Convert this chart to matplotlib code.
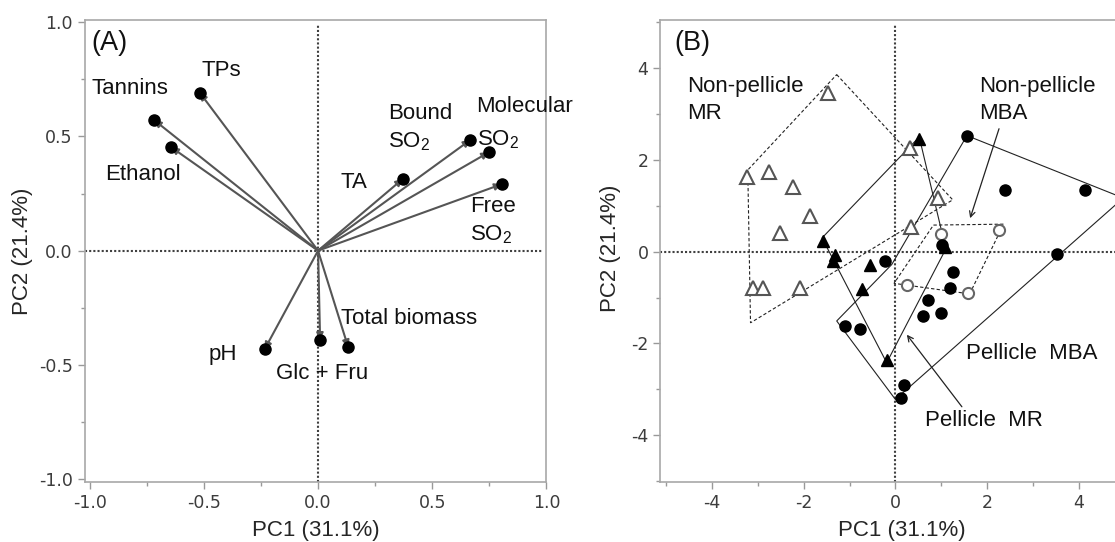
import numpy as np
import matplotlib
matplotlib.use("Agg")
import matplotlib.pyplot as plt
from matplotlib.patches import Polygon
from matplotlib.ticker import MultipleLocator, FormatStrFormatter

# ---- panel A : loadings ----
load_names = ["TPs", "Tannins", "Ethanol", "TA", "Bound SO2", "Molecular SO2",
              "Free SO2", "pH", "Glc + Fru", "Total biomass"]
load_pc1 = [-0.518, -0.718, -0.643, 0.371, 0.667, 0.748, 0.804, -0.234, 0.009, 0.132]
load_pc2 = [0.692, 0.572, 0.453, 0.314, 0.485, 0.431, 0.291, -0.432, -0.391, -0.423]

# label text lines and where they sit (left edge, centre y)
load_labels = [
    ("TPs", -0.51, 0.788),
    ("Tannins", -0.99, 0.711),
    ("Ethanol", -0.931, 0.332),
    ("TA", 0.097, 0.298),
    ("Bound", 0.308, 0.602), ("SO$_2$", 0.308, 0.477),
    ("Molecular", 0.693, 0.631), ("SO$_2$", 0.698, 0.485),
    ("Free", 0.664, 0.193), ("SO$_2$", 0.664, 0.069),
    ("pH", -0.479, -0.454),
    ("Glc + Fru", -0.186, -0.540),
    ("Total biomass", 0.101, -0.296),
]

# ---- panel B : scores ----
np_mr_x = [-1.48, -3.23, -2.76, -2.24, -1.86, -2.51, 0.31, 0.94, 0.34, -3.11, -2.88, -2.08]
np_mr_y = [3.45, 1.63, 1.74, 1.40, 0.78, 0.40, 2.27, 1.16, 0.54, -0.80, -0.80, -0.80]
p_mr_x = [0.52, -1.57, -1.32, -1.37, -0.55, -0.72, 1.08, -0.19]
p_mr_y = [2.45, 0.23, -0.07, -0.20, -0.29, -0.82, 0.10, -2.36]
np_mba_x = [1.00, 2.25, 0.25, 1.59]
np_mba_y = [0.38, 0.47, -0.73, -0.91]
p_mba_x = [1.56, 2.38, 4.14, 1.01, 3.52, -0.22, 1.26, 1.19, 0.72, 0.61, 1.00, -1.10, -0.77, 0.19, 0.12]
p_mba_y = [2.53, 1.34, 1.34, 0.15, -0.06, -0.20, -0.44, -0.80, -1.05, -1.40, -1.34, -1.62, -1.69, -2.90, -3.18]

# group outlines drawn around each group
hull_np_mr = [(-1.28, 3.86), (1.25, 1.13), (-3.16, -1.55), (-3.22, 1.78)]
hull_np_mba = [(0.83, 0.58), (2.36, 0.60), (1.62, -0.92), (-0.03, -0.69)]
hull_p_mr = [(0.52, 2.50), (1.10, 0.06), (-0.19, -2.42), (-1.60, 0.30)]
hull_p_mba = [(1.56, 2.53), (4.97, 1.17), (0.0, -3.22), (-1.28, -1.51), (-0.08, -0.28)]

plt.rcParams["font.family"] = ["Liberation Sans", "DejaVu Sans"]
plt.rcParams["mathtext.fontset"] = "custom"
plt.rcParams["mathtext.rm"] = "Liberation Sans"
plt.rcParams["mathtext.it"] = "Liberation Sans:italic"
plt.rcParams["axes.unicode_minus"] = False

TXT = 16
fig = plt.figure(figsize=(11.15, 5.42), dpi=100)
axA = fig.add_axes([0.0759, 0.1107, 0.4142, 0.8524])
axB = fig.add_axes([0.5921, 0.1107, 0.4219, 0.8524])


def style(ax, major, minor, fmt, xmax=1.0):
    for s in ax.spines.values():
        s.set_color("#a8a8a8")
        s.set_linewidth(1.2)
    ax.xaxis.set_major_locator(MultipleLocator(major))
    ax.yaxis.set_major_locator(MultipleLocator(major))
    ax.xaxis.set_minor_locator(MultipleLocator(minor))
    ax.yaxis.set_minor_locator(MultipleLocator(minor))
    ax.xaxis.set_major_formatter(FormatStrFormatter(fmt))
    ax.yaxis.set_major_formatter(FormatStrFormatter(fmt))
    ax.tick_params(which="major", direction="out", length=5, width=1, color="#999999",
                   labelsize=12.5, labelcolor="#3c3c3c", labelfontfamily="DejaVu Sans")
    ax.tick_params(which="minor", direction="out", length=3, width=1, color="#999999")
    ax.axhline(0, xmax=xmax, color="#404040", lw=1.5, ls=(0, (1, 1)), zorder=1)
    ax.axvline(0, ymax=0.99, color="#404040", lw=1.5, ls=(0, (1, 1)), zorder=1)
    ax.set_xlabel("PC1 (31.1%)", fontsize=TXT, color="#262626", va="center")
    ax.set_ylabel("PC2 (21.4%)", fontsize=TXT, color="#262626", va="center")


# panel A
style(axA, 0.5, 0.25, "%.1f", xmax=0.99)
axA.set_xlim(-1.022, 1.0)
axA.set_ylim(-1.013, 1.01)
for x, y in zip(load_pc1, load_pc2):
    axA.annotate("", xy=(x, y), xytext=(0, 0),
                 arrowprops=dict(arrowstyle="-|>", color="#555555", lw=1.5,
                                 shrinkA=0, shrinkB=0, mutation_scale=10), zorder=2)
axA.plot(load_pc1, load_pc2, "o", color="black", ms=8, zorder=3)
for t, x, y in load_labels:
    axA.text(x, y, t, fontsize=TXT, ha="left", va="center", color="#111111")
axA.text(-0.994, 0.908, "(A)", fontsize=19.5, ha="left", va="center", color="#111111")
axA.xaxis.set_label_coords(0.5, -0.106)
axA.yaxis.set_label_coords(-0.1356, 0.5)

# panel B
style(axB, 2, 1, "%d")
axB.set_xlim(-5.13, 5.13)
axB.set_ylim(-5.02, 5.05)
axB.spines["right"].set_visible(False)

dash = (0, (3, 2))
for hull, ls in [(hull_np_mr, dash), (hull_np_mba, dash), (hull_p_mr, "-"), (hull_p_mba, "-")]:
    axB.add_patch(Polygon(hull, closed=True, fill=False, ec="#222222", lw=0.8, ls=ls, zorder=2))

axB.plot(np_mr_x, np_mr_y, "^", mfc="white", mec="#555555", mew=1.5, ms=9.5, ls="none", zorder=4)
axB.plot(p_mr_x, p_mr_y, "^", color="black", ms=9, ls="none", zorder=4)
axB.plot(np_mba_x, np_mba_y, "o", mfc="white", mec="#666666", mew=1.5, ms=8, ls="none", zorder=4)
axB.plot(p_mba_x, p_mba_y, "o", color="black", ms=8, ls="none", zorder=4)

axB.text(-4.83, 4.54, "(B)", fontsize=19.5, ha="left", va="center", color="#111111")
axB.text(-4.55, 3.61, "Non-pellicle", fontsize=TXT, ha="left", va="center", color="#111111")
axB.text(-4.55, 3.02, "MR", fontsize=TXT, ha="left", va="center", color="#111111")
axB.text(1.82, 3.61, "Non-pellicle", fontsize=TXT, ha="left", va="center", color="#111111")
axB.text(1.82, 3.02, "MBA", fontsize=TXT, ha="left", va="center", color="#111111")
axB.text(1.54, -2.23, "Pellicle  MBA", fontsize=TXT, ha="left", va="center", color="#111111")
axB.text(0.64, -3.67, "Pellicle  MR", fontsize=TXT, ha="left", va="center", color="#111111")

arrow_kw = dict(arrowstyle="->", color="#222222", lw=0.9, shrinkA=0, shrinkB=0, mutation_scale=10)
axB.annotate("", xy=(1.63, 0.73), xytext=(2.26, 2.68), arrowprops=arrow_kw, zorder=3)
axB.annotate("", xy=(0.25, -1.81), xytext=(1.45, -3.38), arrowprops=arrow_kw, zorder=3)

axB.xaxis.set_label_coords(0.513, -0.106)
axB.yaxis.set_label_coords(-0.1046, 0.505)

fig.savefig("out.png", dpi=100)
